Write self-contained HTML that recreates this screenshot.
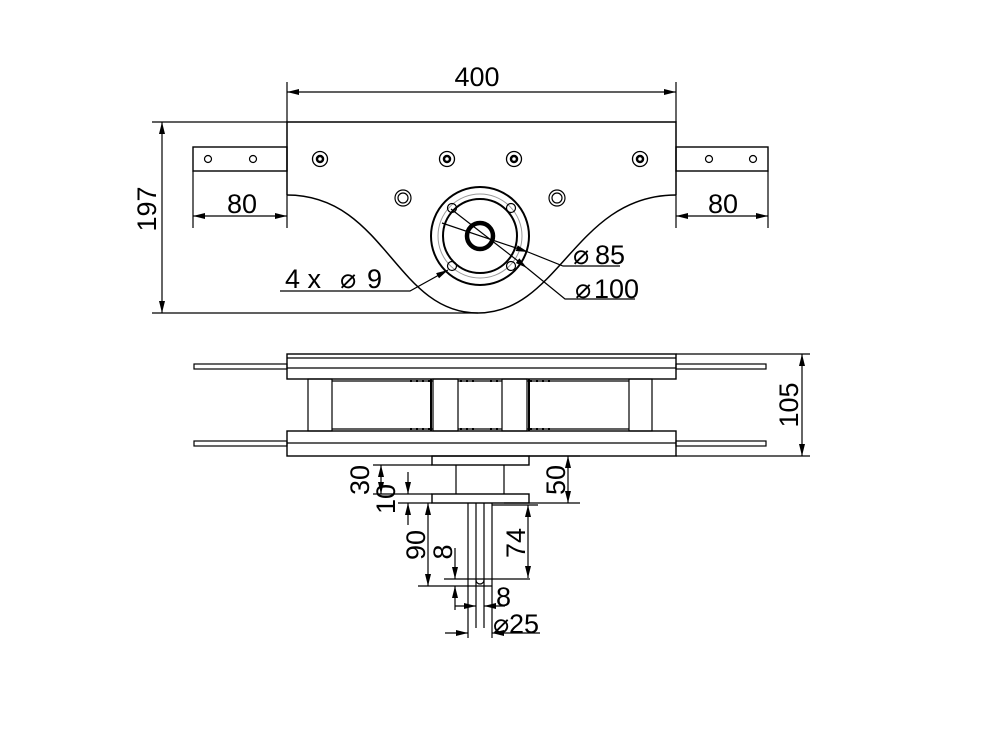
<!DOCTYPE html>
<html><head><meta charset="utf-8"><style>
html,body{margin:0;padding:0;background:#fff;}
svg{display:block;}
text{font-family:"Liberation Sans",sans-serif;font-size:27px;fill:#000;}
</style></head><body>
<svg width="1000" height="750" viewBox="0 0 1000 750" xmlns="http://www.w3.org/2000/svg">
<defs>
<marker id="a" viewBox="0 0 12 6" refX="12" refY="3" markerWidth="12" markerHeight="6" orient="auto" markerUnits="userSpaceOnUse">
<path d="M0,0 L12,3 L0,6 z" fill="#000"/></marker>
</defs>
<g fill="none" stroke="#000" stroke-width="1.2">
<path d="M287,195 V122 H676 V195" stroke-width="1.5"/>
<path d="M287,195 C385,195 395,313 478,313 C560,313 575,195 676,195" stroke-width="1.5"/>
<rect x="193" y="147" width="94" height="24" stroke-width="1.4"/>
<rect x="676" y="147" width="92" height="24" stroke-width="1.4"/>
<circle cx="208" cy="159" r="3.5"/><circle cx="253" cy="159" r="3.5"/>
<circle cx="709" cy="159" r="3.5"/><circle cx="753" cy="159" r="3.5"/>
<g stroke-width="1.3">
<circle cx="320" cy="159" r="7.5"/><circle cx="447" cy="159" r="7.5"/><circle cx="514" cy="159" r="7.5"/><circle cx="640" cy="159" r="7.5"/>
</g>
<g stroke-width="2.5">
<circle cx="320" cy="159" r="3"/><circle cx="447" cy="159" r="3"/><circle cx="514" cy="159" r="3"/><circle cx="640" cy="159" r="3"/>
</g>
<circle cx="403" cy="198" r="8"/><circle cx="403" cy="198" r="5"/>
<circle cx="557" cy="198" r="8"/><circle cx="557" cy="198" r="5"/>
<circle cx="480" cy="236" r="49" stroke-width="2"/>
<circle cx="480" cy="236" r="42" stroke="#999" stroke-width="1"/>
<circle cx="480" cy="236" r="37" stroke-width="2"/>
<circle cx="480" cy="236" r="13" stroke-width="4.5"/>
<circle cx="452" cy="208" r="4.5"/><circle cx="511" cy="208" r="4.5"/>
<circle cx="452" cy="266" r="4.5"/><circle cx="511" cy="266" r="4.5"/>
<path d="M287,122 V82 M676,122 V82"/>
<path d="M480,92 H287" marker-end="url(#a)"/><path d="M480,92 H676" marker-end="url(#a)"/>
<path d="M152,122 H287 M152,313 H478"/>
<path d="M162,210 V122" marker-end="url(#a)"/><path d="M162,210 V313" marker-end="url(#a)"/>
<path d="M193,171 V228 M287,195 V228 M676,195 V228 M768,171 V228"/>
<path d="M240,216 H193" marker-end="url(#a)"/><path d="M240,216 H287" marker-end="url(#a)"/>
<path d="M722,216 H676" marker-end="url(#a)"/><path d="M722,216 H768" marker-end="url(#a)"/>
<path d="M280,291 H410 L448,270" marker-end="url(#a)"/>
<path d="M442,223 L528,252" marker-end="url(#a)"/><path d="M528,252 L563,266 H620"/>
<path d="M451,209 L527,268" marker-end="url(#a)"/><path d="M527,268 L565,299 H635"/>
<rect x="287" y="354" width="389" height="25" stroke-width="1.4"/>
<path d="M287,358 H676 M287,368 H676"/>
<rect x="194" y="364" width="93" height="5"/><rect x="676" y="364" width="90" height="5"/>
<rect x="287" y="431" width="389" height="25" stroke-width="1.4"/>
<path d="M287,443 H676"/>
<rect x="194" y="441" width="93" height="5"/><rect x="676" y="441" width="90" height="5"/>
<rect x="308" y="379" width="24" height="52"/>
<rect x="433" y="379" width="25" height="52"/>
<rect x="502" y="379" width="25" height="52"/>
<rect x="629" y="379" width="23" height="52"/>
<path d="M332,381 H433 M332,429 H433 M458,381 H502 M458,429 H502 M527,381 H629 M527,429 H629"/>
<path d="M431,379 V431 M529,379 V431" stroke-width="2"/>
<g stroke-width="2" stroke-dasharray="2,4">
<path d="M410,381 H430 M460,381 H475 M490,381 H500 M530,381 H550 M410,429 H430 M460,429 H475 M490,429 H500 M530,429 H550"/>
</g>
<path d="M676,354 H810 M676,456 H810"/>
<path d="M802,405 V354" marker-end="url(#a)"/><path d="M802,405 V456" marker-end="url(#a)"/>
<rect x="432" y="456" width="97" height="9" stroke-width="1.4"/>
<rect x="432" y="494" width="97" height="9" stroke-width="1.4"/>
<path d="M456,465 V494 M504,465 V494"/>
<path d="M468,503 V638 M492,503 V638 M476,503 V628 M484,503 V628"/>
<path d="M468,586 H492"/><path d="M476,580 A4,4 0 0 0 484,580"/>
<path d="M373,465 H432 M373,494 H432 M398,503 H432"/>
<path d="M381,480 V465" marker-end="url(#a)"/><path d="M381,480 V494" marker-end="url(#a)"/>
<path d="M408,472 V494" marker-end="url(#a)"/><path d="M408,525 V503" marker-end="url(#a)"/>
<path d="M529,456 H580 M504,503 H580"/>
<path d="M568,480 V456" marker-end="url(#a)"/><path d="M568,480 V503" marker-end="url(#a)"/>
<path d="M418,586 H468"/>
<path d="M428,545 V503" marker-end="url(#a)"/><path d="M428,545 V586" marker-end="url(#a)"/>
<path d="M444,579 H530 M492,505 H538"/>
<path d="M528,540 V505" marker-end="url(#a)"/><path d="M528,540 V578" marker-end="url(#a)"/>
<path d="M455,548 V579" marker-end="url(#a)"/><path d="M455,610 V586" marker-end="url(#a)"/>
<path d="M455,606 H476" marker-end="url(#a)"/><path d="M505,606 H484" marker-end="url(#a)"/>
<path d="M445,633 H468" marker-end="url(#a)"/><path d="M540,633 H492" marker-end="url(#a)"/>
</g>
<text x="477" y="86" text-anchor="middle">400</text>
<text x="242" y="213" text-anchor="middle">80</text>
<text x="723" y="213" text-anchor="middle">80</text>
<text transform="translate(156,209) rotate(-90)" text-anchor="middle">197</text>
<text x="285" y="288">4 x</text>
<text x="340" y="288" font-size="22">⌀</text>
<text x="367" y="288">9</text>
<text x="573" y="264" font-size="22">⌀</text>
<text x="595" y="264">85</text>
<text x="575" y="298" font-size="22">⌀</text>
<text x="594" y="298">100</text>
<text transform="translate(798,405) rotate(-90)" text-anchor="middle">105</text>
<text transform="translate(369,480) rotate(-90)" text-anchor="middle">30</text>
<text transform="translate(395,499) rotate(-90)" text-anchor="middle">10</text>
<text transform="translate(565,480) rotate(-90)" text-anchor="middle">50</text>
<text transform="translate(425,545) rotate(-90)" text-anchor="middle">90</text>
<text transform="translate(452,552) rotate(-90)" text-anchor="middle">8</text>
<text transform="translate(525,543) rotate(-90)" text-anchor="middle">74</text>
<text x="496" y="606">8</text>
<text x="493" y="633" font-size="22">⌀</text>
<text x="509" y="633">25</text>
</svg>
</body></html>
